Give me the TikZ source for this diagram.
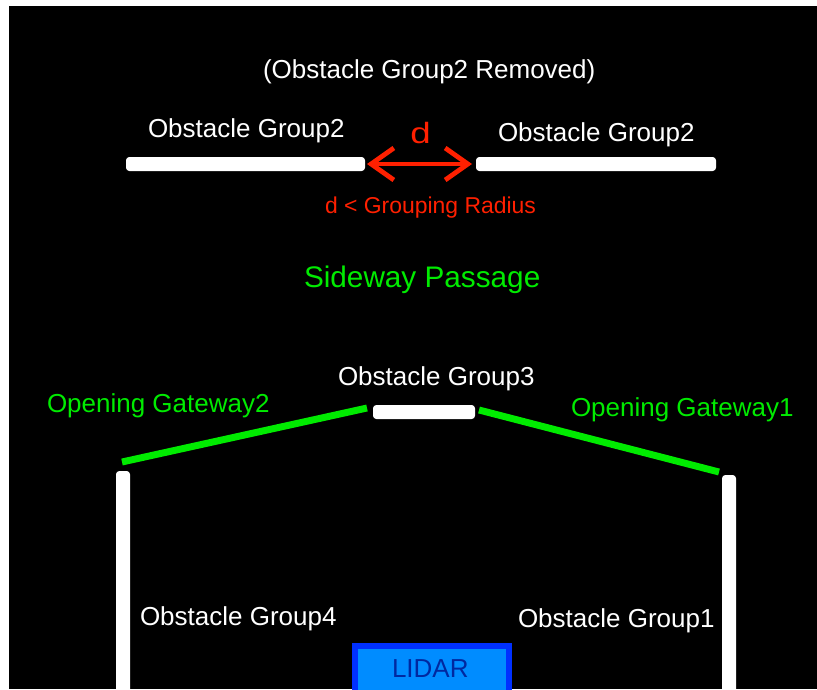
\documentclass[tikz,border=0pt]{standalone}
\usepackage{fontspec}
\setmainfont{Liberation Sans}
\usetikzlibrary{arrows.meta}
\definecolor{lime}{RGB}{0,235,0}
\definecolor{alarm}{RGB}{255,32,0}
\definecolor{lidarfill}{RGB}{0,140,255}
\definecolor{lidaredge}{RGB}{0,48,255}
\definecolor{lidartext}{RGB}{0,40,160}
\tikzset{
  lbl/.style={anchor=base west, inner sep=0pt, outer sep=0pt, text=white,
    font=\fontsize{19.5pt}{22pt}\selectfont},
  gatelbl/.style={lbl, text=lime},
  wall/.style={fill=white, rounded corners=2.5pt},
  gateway/.style={draw=lime, line width=5.2pt},
  gap/.style={draw=alarm, line width=3.6pt,
    {Straight Barb[length=17pt,width=24pt]}-{Straight Barb[length=17pt,width=24pt]}},
}
\begin{document}
\begin{tikzpicture}[x=0.75pt,y=-0.75pt]
  \useasboundingbox (0,0) rectangle (817,689);
  \clip (0,0) rectangle (817,689);
  \fill[white] (0,0) rectangle (817,689);
  \fill[black] (9,6) rectangle (817,689);

  % upper row: the removed group
  \node[lbl] (removed) at (263,78) {(Obstacle Group2 Removed)};
  \node[lbl] (g2left) at (148,137) {Obstacle Group2};
  \node[lbl] (g2right) at (498,141) {Obstacle Group2};
  \fill[wall] (126,157) rectangle (365,171);
  \fill[wall] (476,157) rectangle (716,171);
  \coordinate (gapL) at (367,164);
  \coordinate (gapR) at (472,164);
  \draw[gap] (gapL) -- (gapR);
  \node[anchor=base, inner sep=0pt, text=alarm, xscale=1.25,
    font=\fontsize{22pt}{24pt}\selectfont] (dist) at (420.5,143) {d};
  \node[lbl, text=alarm, font=\fontsize{17.2pt}{20pt}\selectfont]
    (radius) at (325,213) {d < Grouping Radius};

  \node[lbl, text=lime, font=\fontsize{22.3pt}{25pt}\selectfont]
    (passage) at (304,287) {Sideway Passage};

  % middle group and the two gateways
  \node[lbl] (g3) at (338,385) {Obstacle Group3};
  \fill[wall] (373,405) rectangle (475,419);
  \node[gatelbl] (gw2) at (47,412) {Opening Gateway2};
  \node[gatelbl] (gw1) at (571,416) {Opening Gateway1};
  \coordinate (gw2a) at (122,462);
  \coordinate (gw2b) at (367,408);
  \coordinate (gw1a) at (479,410);
  \coordinate (gw1b) at (719,472);
  \draw[gateway] (gw2a) -- (gw2b);
  \draw[gateway] (gw1a) -- (gw1b);

  % side walls
  \fill[wall] (116,471) rectangle (130,700);
  \fill[wall] (722,475) rectangle (736,700);
  \node[lbl] (g4) at (140,625) {Obstacle Group4};
  \node[lbl] (g1) at (518,627) {Obstacle Group1};

  % sensor
  \filldraw[fill=lidarfill, draw=lidaredge, line width=4.5pt]
    (355,646) rectangle (509,705);
  \node[lbl, text=lidartext] (lidar) at (392,677) {LIDAR};
\end{tikzpicture}
\end{document}
